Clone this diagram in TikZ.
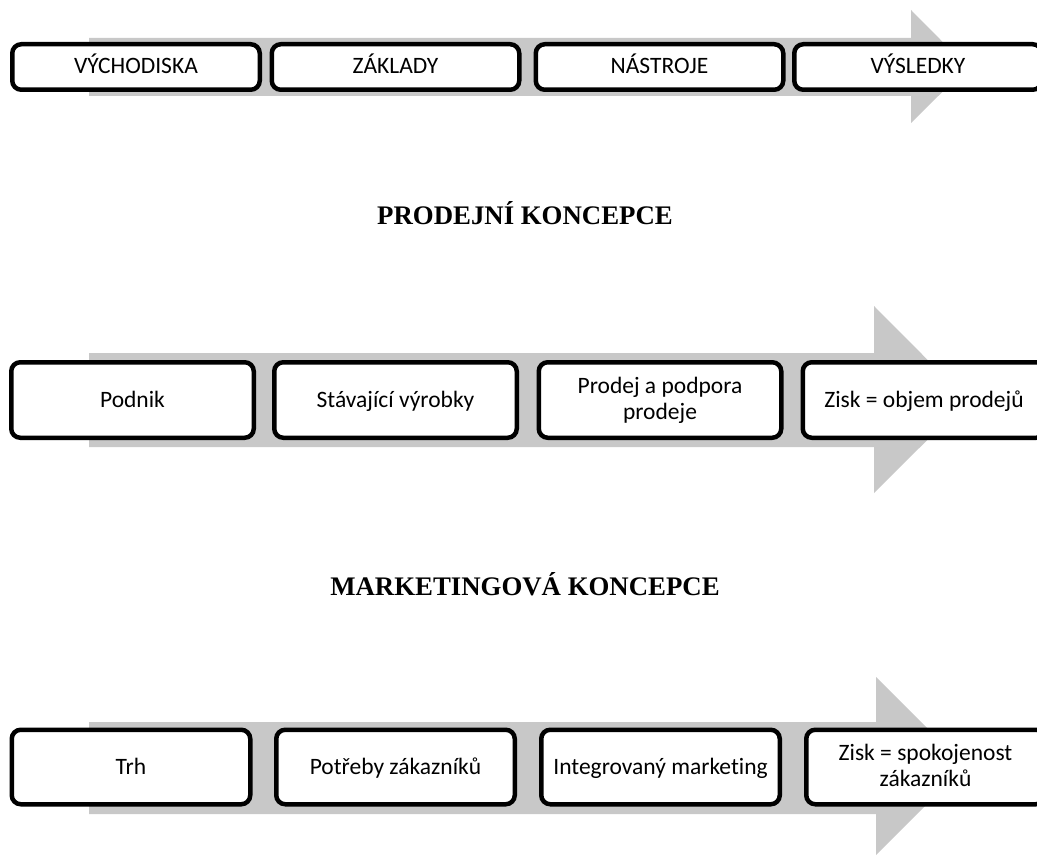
\documentclass[tikz,border=0pt]{standalone}
\usepackage{fontspec}
\newfontfamily\boxfont{Carlito}[Ligatures=CommonOff]
\newfontfamily\titlefont{Liberation Serif}
\definecolor{bandgray}{RGB}{200,200,200}

\begin{document}
\begin{tikzpicture}[x=1pt, y=-1pt,
    stage/.style={draw, line width=4.5pt, rounded corners=9pt, fill=white,
        inner sep=0pt, align=center, font=\boxfont\fontsize{23.5}{26}\selectfont},
    oneline/.style={text height=19.4pt, text depth=5.4pt},
    twoline/.style={text height=43.4pt, text depth=5.4pt},
    heading/.style={anchor=base, font=\titlefont\bfseries\fontsize{26.8}{30}\selectfont}]
    \useasboundingbox (0,0) rectangle (1037,856);
    \clip (0,0) rectangle (1037,856);

    % Top row: phases
    \fill[bandgray] (89,38) -- (911,38) -- (911,10) -- (967.5,67)
        -- (911,123) -- (911,96) -- (89,96) -- cycle;
    \foreach \x/\name/\txt in {136/vychodiska/{VÝCHODISKA}, 395.5/zaklady/{ZÁKLADY},
        659.5/nastroje/{NÁSTROJE}, 918/vysledky/{VÝSLEDKY}} {
        \node[stage, oneline, minimum width=247.5pt, minimum height=45.5pt] (\name) at (\x,67) {\txt};
    }

    \node[heading] (prodejni) at (525,225) {PRODEJNÍ KONCEPCE};

    % Middle row: selling concept
    \fill[bandgray] (89,353) -- (874,353) -- (874,306) -- (967.5,400)
        -- (874,493) -- (874,447) -- (89,447) -- cycle;
    \foreach \x/\name/\kind/\txt in {132.5/podnik/oneline/{Podnik},
        395.5/vyrobky/oneline/{Stávající výrobky},
        660/prodej/twoline/{Prodej a podpora\\prodeje},
        924/ziskobjem/oneline/{Zisk = objem prodejů}} {
        \node[stage, \kind, minimum width=242.5pt, minimum height=75.5pt] (\name) at (\x,400) {\txt};
    }

    \node[heading] (marketingova) at (525,595) {MARKETINGOVÁ KONCEPCE};

    % Bottom row: marketing concept
    \fill[bandgray] (89,722) -- (876,722) -- (876,677) -- (965,766)
        -- (876,855) -- (876,814) -- (89,814) -- cycle;
    \foreach \x/\name/\kind/\txt in {131/trh/oneline/{Trh},
        395.5/potreby/oneline/{Potřeby zákazníků},
        660.5/marketing/oneline/{Integrovaný marketing},
        925.5/ziskspokoj/twoline/{Zisk = spokojenost\\zákazníků}} {
        \node[stage, \kind, minimum width=238.5pt, minimum height=74.5pt] (\name) at (\x,767) {\txt};
    }
\end{tikzpicture}
\end{document}
